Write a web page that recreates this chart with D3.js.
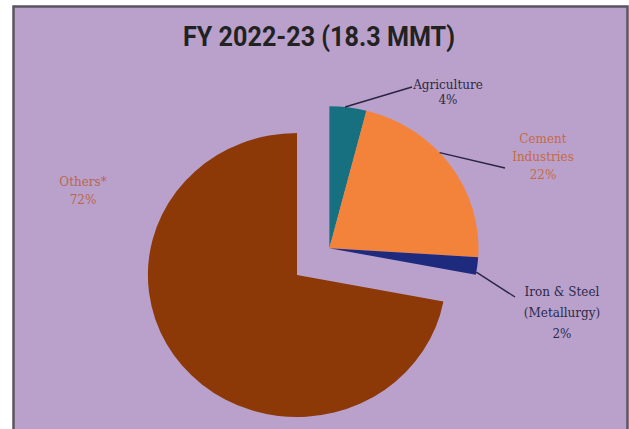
<!DOCTYPE html>
<html>
<head>
<meta charset="utf-8">
<script src="https://cdn.jsdelivr.net/npm/d3@7"></script>
<style>
  body { margin: 0; background: #fff; }
  svg { display: block; }
</style>
</head>
<body>
<div id="chart"></div>
<script>
// data
const categories = ["Agriculture", "Cement Industries", "Iron & Steel (Metallurgy)", "Others*"];
const shares = [4, 22, 2, 72];
const labelLines = [["Agriculture", "4%"], ["Cement", "Industries", "22%"], ["Iron & Steel", "(Metallurgy)", "2%"], ["Others*", "72%"]];
const title = "FY 2022-23 (18.3 MMT)";

const width = 629, height = 429;
const colors = ["#17707f", "#f3833a", "#1d2a7e", "#8c3907"];
const textColors = ["#2c2a3e", "#c46a45", "#2a2a4a", "#b8664c"];

const svg = d3.select("#chart")
  .append("svg")
  .attr("width", width)
  .attr("height", height);

// panel
svg.append("rect")
  .attr("x", 13.5).attr("y", 6.5)
  .attr("width", 614).attr("height", 430)
  .attr("fill", "#baa1cc")
  .attr("stroke", "#5a5560")
  .attr("stroke-width", 2.5);

svg.append("text")
  .attr("x", 319).attr("y", 46)
  .attr("text-anchor", "middle")
  .attr("font-family", "Roboto, sans-serif")
  .attr("font-weight", "bold")
  .attr("font-size", 28)
  .attr("fill", "#222")
  .attr("textLength", 272)
  .attr("lengthAdjust", "spacingAndGlyphs")
  .text(title);

const r = 142;
const sx = 1.05;          // picture is a touch wider than tall
const cx = 297, cy = 275;
const explode = 42;

const pie = d3.pie().sort(null).value((d) => d)(shares);
const arc = d3.arc().innerRadius(0).outerRadius(r);

// the three small slices are pulled out together
const groupStart = pie[0].startAngle, groupEnd = pie[2].endAngle;
const mid = (groupStart + groupEnd) / 2;
const dx = Math.sin(mid) * explode, dy = -Math.cos(mid) * explode;

const g = svg.append("g")
  .attr("transform", "translate(" + cx + "," + cy + ")");

g.selectAll("path")
  .data(pie)
  .enter()
  .append("path")
  .attr("d", arc)
  .attr("fill", (d, i) => colors[i])
  .attr("transform", (d, i) => i < 3
    ? "translate(" + dx + "," + dy + ") scale(" + sx + ",1)"
    : "scale(" + sx + ",1)");

// label layout (relative to pie centre)
const labels = [
  { lineAt: 0.42, end: [115, -188], text: [151, -186], anchor: "middle", gap: 15 },
  { lineAt: 0.42, end: [208, -107], text: [246, -132], anchor: "middle", gap: 18 },
  { lineAt: 0.85, end: [218, 22], text: [265, 21], anchor: "middle", gap: 21 },
  { text: [-214, -89], anchor: "middle", gap: 18 }
];

function edgePoint(d, t) {
  const a = d.startAngle + (d.endAngle - d.startAngle) * t;
  return [Math.sin(a) * r * sx + dx, -Math.cos(a) * r + dy];
}

pie.forEach((d, i) => {
  const L = labels[i];
  if (L.end) {
    const p = edgePoint(d, L.lineAt);
    g.append("line")
      .attr("x1", p[0]).attr("y1", p[1])
      .attr("x2", L.end[0]).attr("y2", L.end[1])
      .attr("stroke", "#2a2440")
      .attr("stroke-width", 1.4);
  }
  const t = g.append("text")
    .attr("x", L.text[0]).attr("y", L.text[1])
    .attr("text-anchor", L.anchor)
    .attr("font-family", "'DejaVu Serif', serif")
    .attr("font-size", 12)
    .attr("fill", textColors[i]);
  labelLines[i].forEach((s, j) => {
    t.append("tspan")
      .attr("x", L.text[0])
      .attr("dy", j === 0 ? 0 : L.gap)
      .text(s);
  });
});
</script>
</body>
</html>
